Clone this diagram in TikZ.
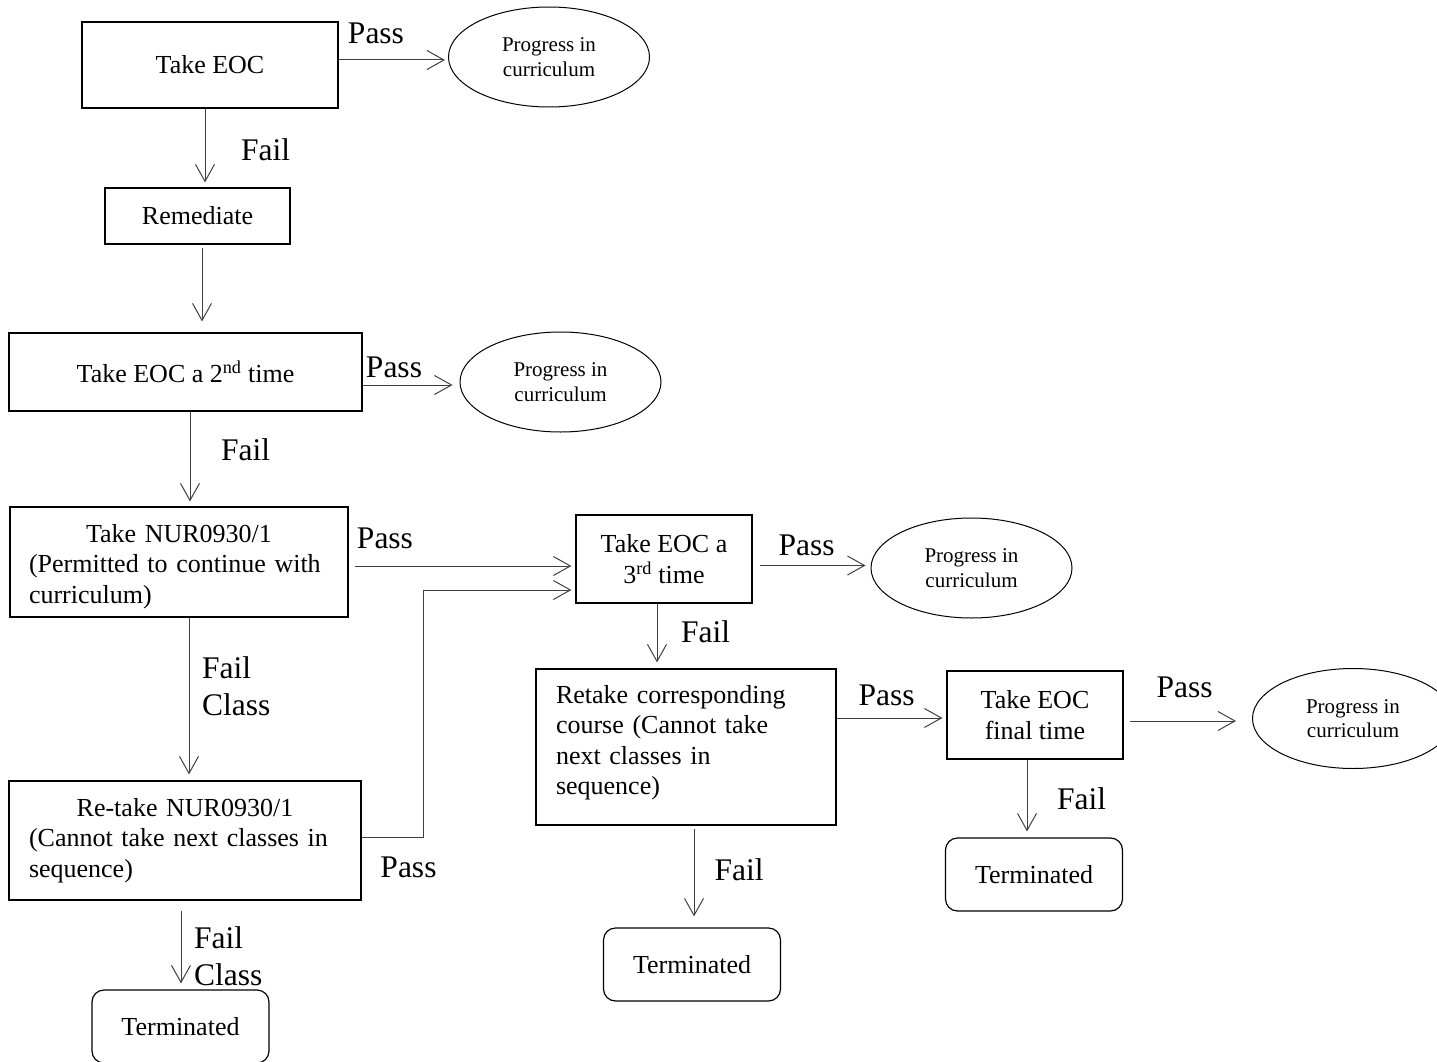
\documentclass[tikz,border=0pt]{standalone}
\usepackage{fontspec}
\setmainfont{Liberation Serif}
\usetikzlibrary{arrows.meta,shapes.geometric}
\begin{document}
\begin{tikzpicture}[x=1pt,y=-1pt,
  box/.style={draw, line width=1.2pt, inner sep=0pt, font=\fontsize{26}{30.5}\selectfont},
  term/.style={box, rounded corners=12pt, minimum width=177pt, minimum height=73pt},
  oval/.style={draw, ellipse, line width=1pt, minimum width=201pt, minimum height=100pt, inner sep=0pt, align=center, font=\fontsize{21}{24.5}\selectfont},
  lbl/.style={inner sep=0pt, font=\fontsize{31.5}{37}\selectfont},
  arr/.style={draw=black!75, line width=1pt, -{Straight Barb[length=17pt,width=19pt]}}]
\useasboundingbox (0,0) rectangle (1437,1062);
\clip (0,0) rectangle (1437,1062);

% boxes
\node[box, minimum width=256pt, minimum height=86pt] (b1) at (210,65) {Take EOC};
\node[oval] (e1) at (549,57) {Progress in\\curriculum};
\node[box, minimum width=185pt, minimum height=56pt] (rem) at (197.5,216) {Remediate};
\node[box, minimum width=353pt, minimum height=78pt] (b2) at (185.5,372) {Take EOC a 2\textsuperscript{nd} time};
\node[oval] (e2) at (560.5,382) {Progress in\\curriculum};
\node[box, minimum width=338pt, minimum height=110pt, text width=300pt, align=left] (b3) at (179,562)
  {\raisebox{0pt}[\dimexpr\height+9pt\relax]{\makebox[300pt]{Take NUR0930/1}}\\(Permitted to continue with\\curriculum)};
\node[box, minimum width=176pt, minimum height=88pt, align=center] (b4) at (664,559) {Take EOC a\\3\textsuperscript{rd} time};
\node[oval] (e3) at (971.5,568) {Progress in\\curriculum};
\node[box, minimum width=352pt, minimum height=119pt, text width=312pt, align=left] (b5) at (185,840.5)
  {\makebox[312pt]{Re-take NUR0930/1}\\(Cannot take next classes in\\sequence)};
\node[box, minimum width=300pt, minimum height=156pt, text width=260pt, align=left] (b6) at (686,747)
  {Retake corresponding\\course (Cannot take\\next classes in\\sequence)\par\kern9pt};
\node[box, minimum width=176pt, minimum height=88pt, align=center] (b7) at (1035,715) {Take EOC\\final time};
\node[oval] (e4) at (1353,718.5) {Progress in\\curriculum};
\node[term] (t1) at (180.5,1026.5) {Terminated};
\node[term] (t2) at (692,964.5) {Terminated};
\node[term] (t3) at (1034,874.5) {Terminated};

% labels
\node[lbl] (p1) at (376,33) {Pass};
\node[lbl] (f1) at (265.5,150) {Fail};
\node[lbl] (p2) at (394,367) {Pass};
\node[lbl] (f2) at (245.5,450) {Fail};
\node[lbl] (p3) at (385,538) {Pass};
\node[lbl, align=left, anchor=west] (fc1) at (202,686.5) {Fail\\Class};
\node[lbl, align=left, anchor=west] (fc2) at (194,956.5) {Fail\\Class};
\node[lbl] (p4) at (408.5,867) {Pass};
\node[lbl] (p5) at (806.5,545) {Pass};
\node[lbl] (f3) at (705.5,632) {Fail};
\node[lbl] (p6) at (886.5,695) {Pass};
\node[lbl] (f4) at (739,870) {Fail};
\node[lbl] (p7) at (1184.5,687) {Pass};
\node[lbl] (f5) at (1081.5,799) {Fail};

% connectors
\draw[arr, shorten >=3pt] ([yshift=5pt]b1.east) -- ([yshift=5pt]b1.east -| e1.west);
\draw[arr, shorten >=5pt] ([xshift=-5pt]b1.south) -- ([xshift=-5pt]b1.south |- rem.north);
\draw[arr, shorten <=3pt, shorten >=11pt] ([xshift=4.5pt]rem.south) -- ([xshift=4.5pt]rem.south |- b2.north);
\draw[arr, shorten >=7pt] ([yshift=-13pt]b2.east) -- ([yshift=-13pt]b2.east -| e2.west);
\draw[arr, shorten >=5pt] ([xshift=4.5pt]b2.south) -- ([xshift=4.5pt]b2.south |- b3.north);
\draw[arr, shorten <=6pt, shorten >=4pt] ([yshift=-4pt]b3.east) -- ([yshift=-4pt]b3.east -| b4.west);
\draw[arr, shorten >=4pt] ([yshift=3.5pt]b5.east) -- ++(62,0) |- ([yshift=-31pt]b4.west);
\draw[arr, shorten >=6pt] ([xshift=10pt]b3.south) -- ([xshift=10pt]b3.south |- b5.north);
\draw[arr, shorten <=10pt, shorten >=6pt] ([xshift=-4pt]b5.south) -- ([xshift=-4pt]b5.south |- t1.north);
\draw[arr, shorten <=7pt, shorten >=5pt] ([yshift=-6.5pt]b4.east) -- ([yshift=-6.5pt]b4.east -| e3.west);
\draw[arr, shorten >=6pt] ([xshift=-7pt]b4.south) -- ([xshift=-7pt]b4.south |- b6.north);
\draw[arr, shorten >=4pt] ([yshift=29pt]b6.east) -- ([yshift=29pt]b6.east -| b7.west);
\draw[arr, shorten <=3pt, shorten >=11pt] ([xshift=8pt]b6.south) -- ([xshift=8pt]b6.south |- t2.north);
\draw[arr, shorten <=6pt, shorten >=16pt] ([yshift=-6pt]b7.east) -- ([yshift=-6pt]b7.east -| e4.west);
\draw[arr, shorten >=6pt] ([xshift=-8pt]b7.south) -- ([xshift=-8pt]b7.south |- t3.north);
\end{tikzpicture}
\end{document}
